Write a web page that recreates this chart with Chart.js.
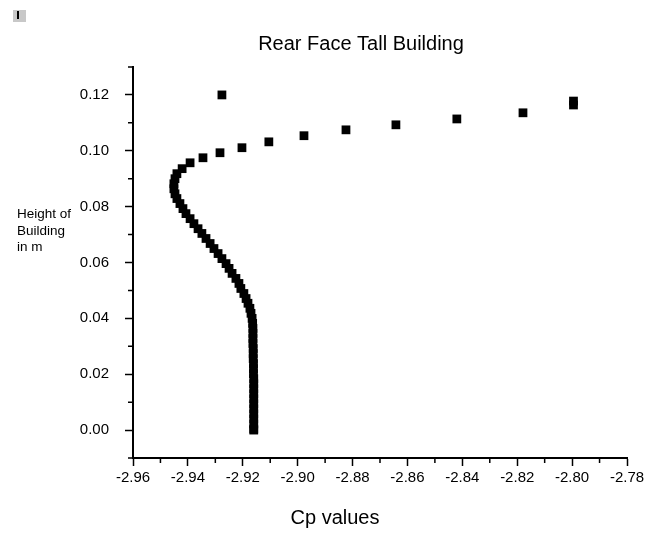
<!DOCTYPE html>
<html>
<head>
<meta charset="utf-8">
<script src="https://cdn.jsdelivr.net/npm/chart.js@4"></script>
<style>
  body { margin:0; background:#fff; }
  #wrap { position:relative; width:653px; height:534px; }
  #icon { position:absolute; left:13px; top:10px; width:13px; height:12px; background:#c8c8c8; }
  #icon i { position:absolute; left:4px; top:1px; width:2px; height:8px; background:#000; }
</style>
</head>
<body>
<div id="wrap">
  <canvas id="chart" width="653" height="534"></canvas>
  <div id="icon"><i></i></div>
</div>
<script>
// Cp values (x) and building heights (y), top of building downwards
const cpValues = [
  -2.9276,
  -2.7995, -2.7995, -2.8179, -2.8420, -2.8642, -2.8824, -2.8977, -2.9105, -2.9203, -2.9283, -2.9345, -2.9392, -2.9421,
  -2.9440, -2.9447, -2.9451, -2.9451, -2.9447, -2.9440, -2.9429, -2.9418, -2.9407, -2.9392, -2.9378, -2.9363, -2.9349,
  -2.9334, -2.9319, -2.9305, -2.9290, -2.9276, -2.9261, -2.9250, -2.9239, -2.9225, -2.9214, -2.9207, -2.9196, -2.9188,
  -2.9181, -2.9174, -2.9170, -2.9166,
  -2.9164, -2.9163, -2.9163, -2.9163, -2.9163, -2.9162, -2.9162, -2.9162, -2.9161, -2.9161, -2.9161, -2.9160, -2.9160,
  -2.9160, -2.9160, -2.9160, -2.9160, -2.9160, -2.9160, -2.9160, -2.9160, -2.9160, -2.9160
];
const heights = [
  0.1200,
  0.1178, 0.1164, 0.1136, 0.1114, 0.1093, 0.1075, 0.1054, 0.1032, 0.1011, 0.0993, 0.0975, 0.0957, 0.0936,
  0.0918, 0.0900, 0.0882, 0.0864, 0.0846, 0.0829, 0.0811, 0.0793, 0.0775, 0.0757, 0.0739, 0.0721, 0.0704,
  0.0686, 0.0668, 0.0650, 0.0632, 0.0614, 0.0596, 0.0579, 0.0561, 0.0543, 0.0525, 0.0507, 0.0489, 0.0471,
  0.0454, 0.0436, 0.0418, 0.0400,
  0.0382, 0.0364, 0.0346, 0.0328, 0.0310, 0.0292, 0.0274, 0.0256, 0.0238, 0.0220, 0.0202, 0.0184, 0.0166,
  0.0148, 0.0130, 0.0112, 0.0094, 0.0076, 0.0058, 0.0040, 0.0022, 0.0004, 0.0000
];

const xTicks = [-2.96, -2.94, -2.92, -2.90, -2.88, -2.86, -2.84, -2.82, -2.80, -2.78];
const xMinorTicks = [-2.95, -2.93, -2.91, -2.89, -2.87, -2.85, -2.83, -2.81, -2.79];
const yTicks = [0.00, 0.02, 0.04, 0.06, 0.08, 0.10, 0.12];
const yMinorTicks = [-0.01, 0.01, 0.03, 0.05, 0.07, 0.09, 0.11, 0.13];

const FONT = 'Arial, "Liberation Sans", sans-serif';

const textPlugin = {
  id: 'texts',
  afterDraw(chart){
    const ctx = chart.ctx;
    const xs = chart.scales.x, ys = chart.scales.y;
    ctx.save();
    // minor ticks
    ctx.strokeStyle = '#000';
    ctx.lineWidth = 1.5;
    ctx.beginPath();
    xMinorTicks.forEach(v=>{
      const px = xs.getPixelForValue(v);
      ctx.moveTo(px, ys.bottom); ctx.lineTo(px, ys.bottom + 5);
    });
    yMinorTicks.forEach(v=>{
      const py = ys.getPixelForValue(v);
      ctx.moveTo(xs.left, py); ctx.lineTo(xs.left - 5, py);
    });
    ctx.stroke();
    // title + axis titles
    ctx.fillStyle = '#000';
    ctx.textAlign = 'center';
    ctx.textBaseline = 'alphabetic';
    ctx.font = '20px ' + FONT;
    ctx.fillText('Rear Face Tall Building', 361, 50);
    ctx.fillText('Cp values', 335, 524);
    ctx.textAlign = 'left';
    ctx.font = '13.5px ' + FONT;
    ctx.fillText('Height of', 17, 218);
    ctx.fillText('Building', 17, 235);
    ctx.fillText('in m', 17, 251);
    ctx.restore();
  }
};

new Chart(document.getElementById('chart').getContext('2d'), {
  type: 'scatter',
  data: {
    datasets: [{
      data: cpValues.map((x,i)=>({x, y: heights[i]})),
      pointStyle: 'rect',
      radius: 6.2,
      hoverRadius: 6.2,
      backgroundColor: '#000',
      borderColor: '#000',
      borderWidth: 0
    }]
  },
  options: {
    responsive: false,
    animation: false,
    layout: { padding: { left: 0, top: 67, right: 26, bottom: 0 } },
    plugins: { legend: { display: false }, tooltip: { enabled: false } },
    scales: {
      x: {
        type: 'linear',
        min: -2.96, max: -2.78,
        afterBuildTicks: s => { s.ticks = xTicks.map(v=>({value: v})); },
        afterFit: s => { s.height = 76; },
        border: { display: true, color: '#000', width: 2 },
        grid: { drawOnChartArea: false, drawTicks: true, tickLength: 8, tickColor: '#000', tickWidth: 1.5 },
        ticks: { color: '#000', font: { family: FONT, size: 15 }, padding: 3, maxRotation: 0, autoSkip: false,
                 callback: v => v.toFixed(2) }
      },
      y: {
        type: 'linear',
        min: -0.01, max: 0.13,
        afterBuildTicks: s => { s.ticks = yTicks.map(v=>({value: v})); },
        afterFit: s => { s.width = 133; },
        border: { display: true, color: '#000', width: 2 },
        grid: { drawOnChartArea: false, drawTicks: true, tickLength: 8, tickColor: '#000', tickWidth: 1.5 },
        ticks: { color: '#000', font: { family: FONT, size: 15 }, padding: 16, autoSkip: false,
                 callback: v => v.toFixed(2) }
      }
    }
  },
  plugins: [textPlugin]
});
</script>
</body>
</html>
